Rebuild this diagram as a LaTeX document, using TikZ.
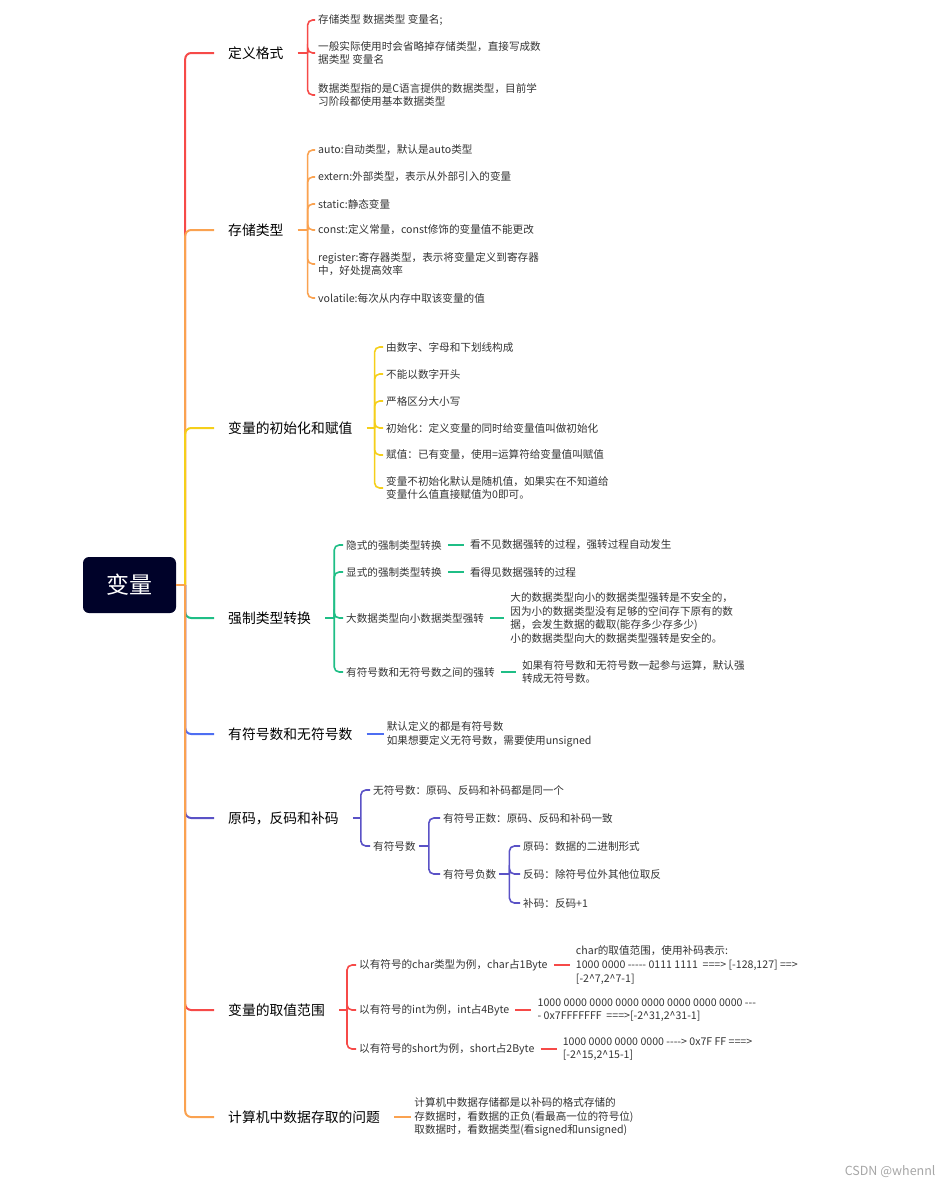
\documentclass[tikz,border=0pt]{standalone}
\usepackage{fontspec}
\setmainfont{Noto Sans CJK SC}[Ligatures=TeXOff]
\usepackage{tikz}
\usetikzlibrary{positioning}

\definecolor{rootbg}{HTML}{000229}
\definecolor{cred}{HTML}{F64A48}
\definecolor{corange}{HTML}{FAA250}
\definecolor{cyellow}{HTML}{F5CF1A}
\definecolor{cgreen}{HTML}{1FBE86}
\definecolor{cblue}{HTML}{4E6EF2}
\definecolor{cpurple}{HTML}{5A52C6}
\definecolor{leaftext}{HTML}{333333}

\tikzset{
  root/.style={fill=rootbg, text=white, rounded corners=6pt,
    minimum width=93pt, minimum height=56pt, font=\fontsize{23}{26}\selectfont},
  topic/.style={anchor=west, inner xsep=14pt, inner ysep=2pt,
    font=\fontsize{13.8}{16}\selectfont},
  leaf/.style={anchor=west, inner xsep=3pt, inner ysep=1pt, align=left,
    text=leaftext, font=\fontsize{10.6}{13.7}\selectfont},
  branch/.style={line width=2pt, rounded corners=6pt},
  twig/.style={line width=1.6pt, rounded corners=5pt},
  link/.style={line width=1.6pt, shorten <=3pt, shorten >=3pt}
}

\begin{document}
\begin{tikzpicture}[x=1pt, y=-1pt]
  \useasboundingbox (0,0) rectangle (942,1189);

  % root
  \node[root] (var) at (129.5,585) {变量};
  \coordinate (hub) at ([xshift=9pt]var.east);

  % main topics
  \node[topic] (def) at (214,53) {定义格式};
  \node[topic] (stor) at (214,230) {存储类型};
  \node[topic] (init) at (214,428) {变量的初始化和赋值};
  \node[topic] (cast) at (214,618) {强制类型转换};
  \node[topic] (sign) at (214,734) {有符号数和无符号数};
  \node[topic] (code) at (214,818) {原码，反码和补码};
  \node[topic] (range) at (214,1010) {变量的取值范围};
  \node[topic] (mem) at (214,1117) {计算机中数据存取的问题};

  \draw[branch, cred] (hub) |- (def.west);
  \draw[branch, corange] (hub) |- (stor.west);
  \draw[branch, cyellow] (hub) |- (init.west);
  \draw[branch, cgreen] (hub) |- (cast.west);
  \draw[branch, cblue] (hub) |- (sign.west);
  \draw[branch, cpurple] (hub) |- (code.west);
  \draw[branch, cred] (hub) |- (range.west);
  \draw[branch, corange] (hub) |- (mem.west);
  \draw[branch, corange] (var.east) -- (hub);

  % 定义格式
  \coordinate (def-j) at ([xshift=10pt]def.east);
  \draw[twig, cred] (def.east) -- (def-j);
  \node[leaf] (def1) at (315,20) {存储类型 数据类型 变量名;};
  \node[leaf] (def2) at (315,53) {一般实际使用时会省略掉存储类型，直接写成数\\据类型 变量名};
  \node[leaf] (def3) at (315,95) {数据类型指的是C语言提供的数据类型，目前学\\习阶段都使用基本数据类型};
  \foreach \n in {def1,def2,def3}
    \draw[twig, cred] (def-j) |- (\n.west);

  % 存储类型
  \coordinate (stor-j) at ([xshift=10pt]stor.east);
  \draw[twig, corange] (stor.east) -- (stor-j);
  \node[leaf] (stor1) at (315,150) {auto:自动类型，默认是auto类型};
  \node[leaf] (stor2) at (315,177) {extern:外部类型，表示从外部引入的变量};
  \node[leaf] (stor3) at (315,204) {static:静态变量};
  \node[leaf] (stor4) at (315,230) {const:定义常量，const修饰的变量值不能更改};
  \node[leaf] (stor5) at (315,264) {register:寄存器类型，表示将变量定义到寄存器\\中，好处提高效率};
  \node[leaf] (stor6) at (315,298) {volatile:每次从内存中取该变量的值};
  \foreach \n in {stor1,stor2,stor3,stor4,stor5,stor6}
    \draw[twig, corange] (stor-j) |- (\n.west);

  % 变量的初始化和赋值
  \coordinate (init-j) at ([xshift=8pt]init.east);
  \draw[twig, cyellow] (init.east) -- (init-j);
  \node[leaf] (init1) at (383,347) {由数字、字母和下划线构成};
  \node[leaf] (init2) at (383,374) {不能以数字开头};
  \node[leaf] (init3) at (383,401) {严格区分大小写};
  \node[leaf] (init4) at (383,428) {初始化：定义变量的同时给变量值叫做初始化};
  \node[leaf] (init5) at (383,455) {赋值：已有变量，使用=运算符给变量值叫赋值};
  \node[leaf] (init6) at (383,488) {变量不初始化默认是随机值，如果实在不知道给\\变量什么值直接赋值为0即可。};
  \foreach \n in {init1,init2,init3,init4,init5,init6}
    \draw[twig, cyellow] (init-j) |- (\n.west);

  % 强制类型转换
  \coordinate (cast-j) at ([xshift=9pt]cast.east);
  \draw[twig, cgreen] (cast.east) -- (cast-j);
  \node[leaf] (cast1) at (343,545) {隐式的强制类型转换};
  \node[leaf] (cast2) at (343,572) {显式的强制类型转换};
  \node[leaf] (cast3) at (343,618) {大数据类型向小数据类型强转};
  \node[leaf] (cast4) at (343,672) {有符号数和无符号数之间的强转};
  \foreach \n in {cast1,cast2,cast3,cast4}
    \draw[twig, cgreen] (cast-j) |- (\n.west);
  \node[leaf, right=22pt of cast1] (cast1a) {看不见数据强转的过程，强转过程自动发生};
  \node[leaf, right=22pt of cast2] (cast2a) {看得见数据强转的过程};
  \node[leaf, right=20pt of cast3] (cast3a) {大的数据类型向小的数据类型强转是不安全的，\\因为小的数据类型没有足够的空间存下原有的数\\据，会发生数据的截取(能存多少存多少)\\小的数据类型向大的数据类型强转是安全的。};
  \node[leaf, right=21pt of cast4] (cast4a) {如果有符号数和无符号数一起参与运算，默认强\\转成无符号数。};
  \draw[link, cgreen] (cast1) -- (cast1a);
  \draw[link, cgreen] (cast2) -- (cast2a);
  \draw[link, cgreen] (cast3) -- (cast3a);
  \draw[link, cgreen] (cast4) -- (cast4a);

  % 有符号数和无符号数
  \node[leaf, right=17pt of sign] (sign1) {默认定义的都是有符号数\\如果想要定义无符号数，需要使用unsigned};
  \draw[branch, cblue] (sign) -- (sign1);

  % 原码，反码和补码
  \coordinate (code-j) at ([xshift=8pt]code.east);
  \draw[twig, cpurple] (code.east) -- (code-j);
  \node[leaf] (unsig) at (370,790) {无符号数：原码、反码和补码都是同一个};
  \node[leaf] (sig) at (370,846) {有符号数};
  \draw[twig, cpurple] (code-j) |- (unsig.west);
  \draw[twig, cpurple] (code-j) |- (sig.west);
  \coordinate (sig-j) at ([xshift=10pt]sig.east);
  \draw[twig, cpurple] (sig.east) -- (sig-j);
  \node[leaf] (pos) at (440,818) {有符号正数：原码、反码和补码一致};
  \node[leaf] (neg) at (440,874) {有符号负数};
  \draw[twig, cpurple] (sig-j) |- (pos.west);
  \draw[twig, cpurple] (sig-j) |- (neg.west);
  \coordinate (neg-j) at ([xshift=10pt]neg.east);
  \draw[twig, cpurple] (neg.east) -- (neg-j);
  \node[leaf] (neg1) at (520,846) {原码：数据的二进制形式};
  \node[leaf] (neg2) at (520,874) {反码：除符号位外其他位取反};
  \node[leaf] (neg3) at (520,903) {补码：反码+1};
  \foreach \n in {neg1,neg2,neg3}
    \draw[twig, cpurple] (neg-j) |- (\n.west);

  % 变量的取值范围
  \coordinate (range-j) at ([xshift=8pt]range.east);
  \draw[twig, cred] (range.east) -- (range-j);
  \node[leaf] (rchar) at (356,965) {以有符号的char类型为例，char占1Byte};
  \node[leaf] (rint) at (356,1010) {以有符号的int为例，int占4Byte};
  \node[leaf] (rshort) at (356,1049) {以有符号的short为例，short占2Byte};
  \foreach \n in {rchar,rint,rshort}
    \draw[twig, cred] (range-j) |- (\n.west);
  \node[leaf, right=22pt of rchar] (rchar1) {char的取值范围，使用补码表示:\\1000 0000 ----- 0111 1111~~===> [-128,127] ==>\\{}[-2\textasciicircum7,2\textasciicircum7-1]};
  \node[leaf, right=22pt of rint] (rint1) {1000 0000 0000 0000 0000 0000 0000 0000 ---\\- 0x7FFFFFFF~~===>[-2\textasciicircum31,2\textasciicircum31-1]};
  \node[leaf, right=22pt of rshort] (rshort1) {1000 0000 0000 0000 ----> 0x7F FF ===>\\{}[-2\textasciicircum15,2\textasciicircum15-1]};
  \draw[link, cred] (rchar) -- (rchar1);
  \draw[link, cred] (rint) -- (rint1);
  \draw[link, cred] (rshort) -- (rshort1);

  % 计算机中数据存取的问题
  \node[leaf, right=17pt of mem] (mem1) {计算机中数据存储都是以补码的格式存储的\\存数据时，看数据的正负(看最高一位的符号位)\\取数据时，看数据类型(看signed和unsigned)};
  \draw[branch, corange] (mem) -- (mem1);

  \node[anchor=east, text=black!35, font=\fontsize{12.5}{14}\selectfont] (mark) at (939,1172) {CSDN @whennl};
\end{tikzpicture}
\end{document}
